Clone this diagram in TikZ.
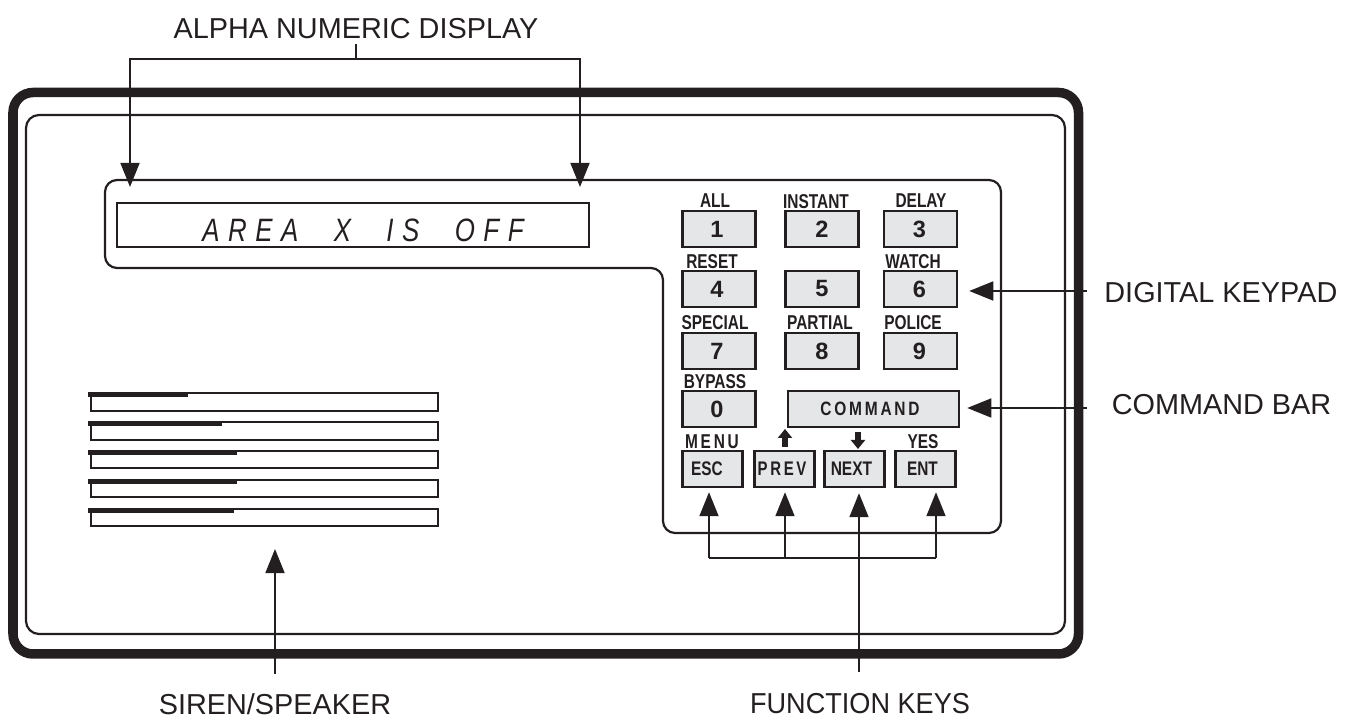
\documentclass[tikz,border=0pt]{standalone}
\usepackage{fontspec}
\setmainfont{Liberation Sans}
\usetikzlibrary{arrows.meta}
\definecolor{keygray}{RGB}{228,230,231}
\definecolor{inkblack}{RGB}{35,31,32}
\newfontfamily\displayfont[LetterSpace=33,ItalicFont={Liberation Sans Italic}]{Liberation Sans}
\newfontfamily\spacedfont[LetterSpace=18,BoldFont={Liberation Sans Bold}]{Liberation Sans}
\tikzset{
    callout/.style={font=\fontsize{8.2}{10}\selectfont, color=inkblack, inner sep=0pt},
    pointer/.style={draw=inkblack, line width=0.016cm, -{Triangle[length=0.24cm, width=0.19cm]}},
    stubarrow/.style={draw=inkblack, line width=0.065cm, -{Triangle[length=0.09cm, width=0.14cm]}},
    keybox/.style={draw=inkblack, fill=keygray, line width=0.024cm, minimum height=0.36cm, minimum width=0.73cm, inner sep=0pt, text=inkblack, font=\fontsize{6.7}{8}\bfseries\selectfont},
    fnbox/.style={keybox, minimum width=0.6cm, font=\fontsize{5.6}{6}\bfseries\selectfont},
    keylabel/.style={color=inkblack, inner sep=0pt, xscale=0.77, font=\fontsize{5.7}{6}\bfseries\selectfont},
}
\begin{document}
\begin{tikzpicture}[x=0.01cm, y=-0.01cm]
    \useasboundingbox (0, 0) rectangle (1354, 719);

    % Housing
    \draw[inkblack, line width=0.095cm, rounded corners=0.2cm] (13, 92.5) rectangle (1078.5, 654);
    \draw[inkblack, line width=0.022cm, rounded corners=0.13cm] (26, 115) rectangle (1065, 634);

    % Display and keypad outline
    \draw[inkblack, line width=0.022cm, rounded corners=0.12cm]
        (105, 180) -- (1001, 180) -- (1001, 533) -- (663, 533) -- (663, 268) -- (105, 268) -- cycle;
    \node[draw=inkblack, line width=0.02cm, minimum width=4.72cm, minimum height=0.44cm, inner sep=0pt, text=inkblack] (display) at (353, 225) {};
    \node[color=inkblack, inner sep=0pt, xscale=0.8, font=\fontsize{9.2}{12}\displayfont\itshape] (displaytext) at (363, 230) {AREA\hspace{0.245cm} X\hspace{0.245cm} IS\hspace{0.245cm} OFF};

    % Number keys
    \node[keybox] (key1) at (719, 229) {\kern-0.04cm 1};
    \node[keybox] (key2) at (822, 229) {2};
    \node[keybox] (key3) at (920.5, 229) {\kern-0.02cm 3};
    \node[keybox] (key4) at (719, 289) {\kern-0.04cm 4};
    \node[keybox] (key5) at (822, 289) {5};
    \node[keybox] (key6) at (920.5, 289) {\kern-0.02cm 6};
    \node[keybox] (key7) at (719, 351) {\kern-0.04cm 7};
    \node[keybox] (key8) at (822, 351) {8};
    \node[keybox] (key9) at (920.5, 351) {\kern-0.02cm 9};
    \node[keybox] (key0) at (719, 409) {\kern-0.04cm 0};
    \node[keybox, minimum width=1.71cm, font=\fontsize{5.5}{6}\spacedfont\bfseries] (keycmd) at (873.5, 409) {\kern-0.07cm\scalebox{0.8}[1]{COMMAND}};

    % Function keys
    \node[fnbox] (keyesc) at (712.5, 469) {\kern-0.11cm\scalebox{0.78}[1]{ESC}};
    \node[fnbox, font=\fontsize{5.6}{6}\spacedfont\bfseries] (keyprev) at (784.5, 469) {\kern-0.05cm\scalebox{0.76}[1]{PREV}};
    \node[fnbox] (keynext) at (854.5, 469) {\kern-0.06cm\scalebox{0.79}[1]{NEXT}};
    \node[fnbox] (keyent) at (925.5, 469) {\kern-0.06cm\scalebox{0.78}[1]{ENT}};

    % Key labels
    \node[keylabel] (lblall) at (715, 201) {ALL};
    \node[keylabel] (lblinstant) at (816, 202) {INSTANT};
    \node[keylabel] (lbldelay) at (921, 201) {DELAY};
    \node[keylabel] (lblreset) at (712, 262) {RESET};
    \node[keylabel] (lblwatch) at (913, 262) {WATCH};
    \node[keylabel] (lblspecial) at (715, 323) {SPECIAL};
    \node[keylabel] (lblpartial) at (820, 323) {PARTIAL};
    \node[keylabel] (lblpolice) at (913, 323) {POLICE};
    \node[keylabel] (lblbypass) at (715, 382) {BYPASS};
    \node[keylabel, font=\fontsize{5.7}{6}\spacedfont\bfseries] (lblmenu) at (712, 442) {MENU};
    \node[keylabel] (lblyes) at (923, 442) {YES};

    % Small arrows over the function keys
    \coordinate (prevstub) at (785, 447);
    \coordinate (nextstub) at (858, 432);
    \draw[stubarrow] (prevstub) -- ++(0, -18);
    \draw[stubarrow] (nextstub) -- ++(0, 17);

    % Siren slots
    \draw[inkblack, line width=0.02cm] (91, 393) rectangle (438, 411);
    \draw[inkblack, line width=0.02cm] (91, 422) rectangle (438, 440);
    \draw[inkblack, line width=0.02cm] (91, 451) rectangle (438, 468);
    \draw[inkblack, line width=0.02cm] (91, 480) rectangle (438, 497);
    \draw[inkblack, line width=0.02cm] (91, 509) rectangle (438, 526);
    \draw[inkblack, line width=0.045cm] (88, 394.5) -- (188, 394.5);
    \draw[inkblack, line width=0.045cm] (88, 423.5) -- (222, 423.5);
    \draw[inkblack, line width=0.045cm] (88, 452.5) -- (237, 452.5);
    \draw[inkblack, line width=0.045cm] (88, 481.5) -- (237, 481.5);
    \draw[inkblack, line width=0.045cm] (88, 510.5) -- (234, 510.5);

    % Callouts
    \node[callout] (alphatext) at (356, 29) {ALPHA NUMERIC DISPLAY};
    \node[callout, anchor=east] (keypadtext) at (1338, 293) {DIGITAL KEYPAD};
    \node[callout, anchor=east] (cmdtext) at (1332, 405) {COMMAND BAR};
    \node[callout] (sirentext) at (275, 704) {SIREN/SPEAKER};
    \node[callout, xscale=0.94] (fntext) at (860, 704) {FUNCTION KEYS};

    % Alpha display arrows
    \coordinate (alphajoin) at (356, 59);
    \coordinate (alphaleft) at (130, 59);
    \coordinate (alpharight) at (580, 59);
    \coordinate (alphalefttip) at (130, 187);
    \coordinate (alpharighttip) at (580, 187);
    \draw[inkblack, line width=0.016cm] (alphatext.south |- 0, 44) -- (alphajoin);
    \draw[pointer] (alphajoin) -- (alphaleft) -- (alphalefttip);
    \draw[pointer] (alphajoin) -- (alpharight) -- (alpharighttip);

    % Keypad and command arrows
    \coordinate (keypadend) at (1087, 291);
    \coordinate (cmdend) at (1087, 408);
    \draw[pointer, shorten >=0.11cm] (keypadend) -- (keypadend -| key6.east);
    \draw[pointer, shorten >=0.07cm] (cmdend) -- (cmdend -| keycmd.east);

    % Function key arrows
    \coordinate (busesc) at (709, 558);
    \coordinate (busprev) at (785, 558);
    \coordinate (busnext) at (859, 558);
    \coordinate (busent) at (936, 558);
    \coordinate (fnend) at (859, 672);
    \draw[inkblack, line width=0.016cm] (busesc) -- (busent);
    \draw[pointer, shorten >=0.04cm] (busesc) -- (busesc |- keyesc.south);
    \draw[pointer, shorten >=0.04cm] (busprev) -- (busprev |- keyprev.south);
    \draw[pointer, shorten >=0.05cm] (fnend) -- (fnend |- keynext.south);
    \draw[pointer, shorten >=0.04cm] (busent) -- (busent |- keyent.south);

    % Siren arrow
    \coordinate (sirenend) at (275, 674);
    \coordinate (sirentip) at (275, 549);
    \draw[pointer] (sirenend) -- (sirentip);
\end{tikzpicture}
\end{document}
